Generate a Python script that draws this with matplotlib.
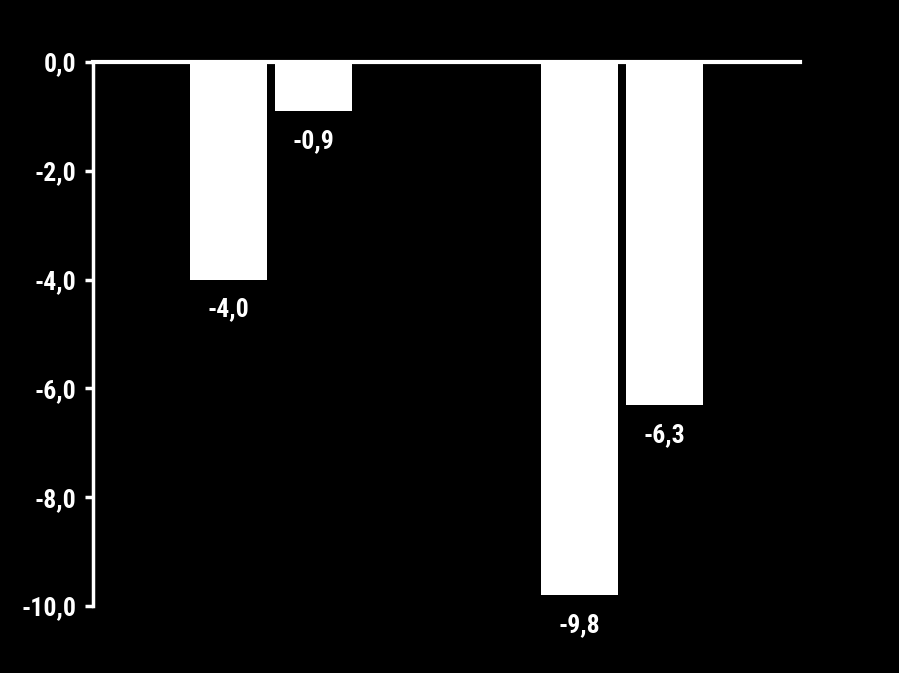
import matplotlib
matplotlib.use("Agg")
import matplotlib.pyplot as plt
import numpy as np

# Data
groups = ["A", "B"]
series_1 = [-4.0, -9.8]
series_2 = [-0.9, -6.3]
y_ticks = [0, -2, -4, -6, -8, -10]

FONT = ["Liberation Sans Narrow", "Roboto Condensed", "Open Sans Condensed",
        "Liberation Sans", "DejaVu Sans"]


def fmt(v):
    return f"{v:.1f}".replace(".", ",")


fig = plt.figure(figsize=(8.99, 6.73), dpi=100, facecolor="black")
ax = fig.add_axes([93 / 899, 1 - 606 / 673, (800 - 93) / 899, (606 - 62) / 673])
ax.set_facecolor("black")

x = np.arange(len(groups))
width = 0.219
offset = 0.121

bars1 = ax.bar(x - offset, series_1, width, color="white")
bars2 = ax.bar(x + offset, series_2, width, color="white")

for bars, vals in [(bars1, series_1), (bars2, series_2)]:
    for bar, v in zip(bars, vals):
        ax.annotate(fmt(v), (bar.get_x() + bar.get_width() / 2, v),
                    xytext=(0, -13), textcoords="offset points",
                    ha="center", va="top", color="white",
                    fontsize=18.5, fontweight="bold", family=FONT)

ax.set_xlim(-0.506, 1.506)
ax.set_ylim(-10, 0)
ax.set_yticks(y_ticks)
ax.set_yticklabels([fmt(t) for t in y_ticks], color="white",
                   fontsize=18.5, fontweight="bold", family=FONT)
ax.set_xticks([])

for side in ["right", "bottom"]:
    ax.spines[side].set_visible(False)
ax.spines["left"].set_color("white")
ax.spines["left"].set_linewidth(2.5)
ax.spines["top"].set_color("white")
ax.spines["top"].set_linewidth(3)
ax.tick_params(axis="y", colors="white", length=6, width=2.5, pad=6)

fig.savefig("out.png", dpi=100, facecolor="black")
